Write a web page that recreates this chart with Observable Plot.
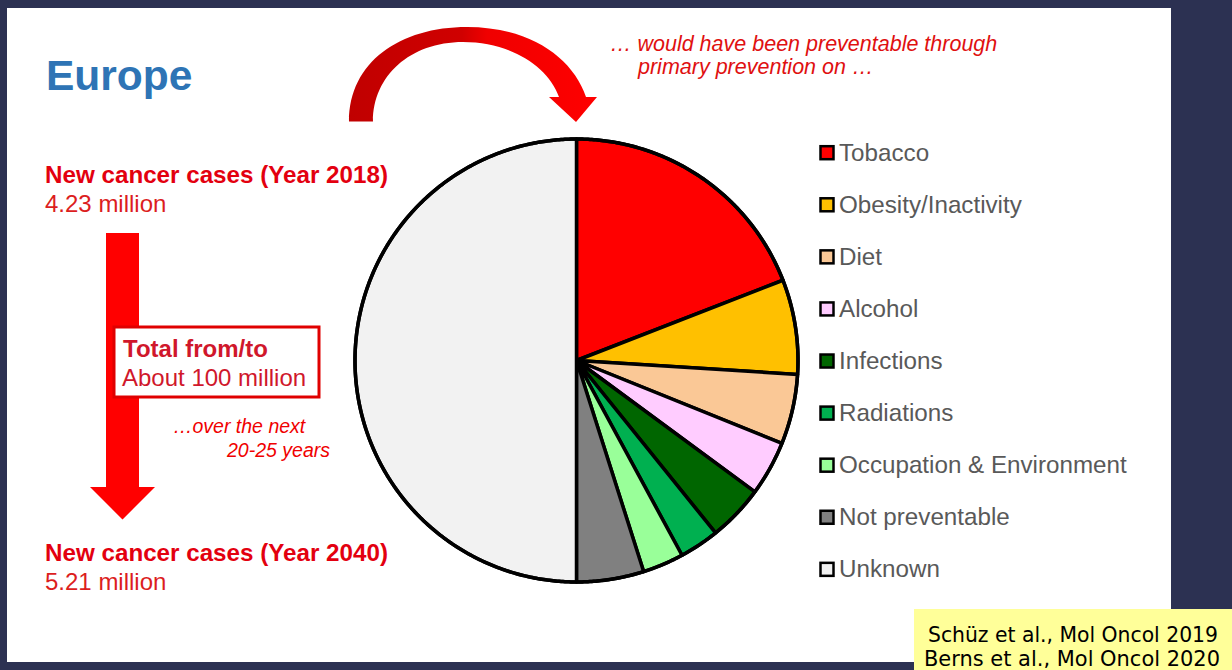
<!DOCTYPE html>
<html><head><meta charset="utf-8">
<script src="https://cdn.jsdelivr.net/npm/d3@7"></script>
<script src="https://cdn.jsdelivr.net/npm/@observablehq/plot@0.6"></script>
<style>
html,body{margin:0;padding:0;}
body{width:1232px;height:670px;background:#2c3152;position:relative;overflow:hidden;font-family:"Liberation Sans",Arial,sans-serif;}
#slide{position:absolute;left:7px;top:8px;width:1164px;height:654px;background:#fff;}
#pie{position:absolute;left:345.5px;top:130px;width:460px;height:460px;}
#overlay{position:absolute;left:0;top:0;pointer-events:none;}
</style></head><body>
<div id="slide"></div>
<div id="pie"></div>
<svg id="overlay" width="1232" height="670" xmlns="http://www.w3.org/2000/svg"></svg>
<script>
// ---- data ----
const categories = ["Tobacco", "Obesity/Inactivity", "Diet", "Alcohol", "Infections", "Radiations", "Occupation & Environment", "Not preventable", "Unknown"];
const shares = [19.1, 6.9, 5.1, 4.0, 4.1, 2.9, 3.0, 4.9, 50.0];   // % of new cancer cases
const colors = ["#ff0000", "#ffc000", "#fac896", "#ffccff", "#006600", "#00b050", "#99ff99", "#808080", "#f2f2f2"];

const title = "Europe";
const header2018 = "New cancer cases (Year 2018)";
const value2018 = "4.23 million";
const header2040 = "New cancer cases (Year 2040)";
const value2040 = "5.21 million";
const totalLines = ["Total from/to", "About 100 million"];
const periodLines = ["\u2026over the next", "20-25 years"];
const preventLines = ["\u2026 would have been preventable through", "primary prevention on \u2026"];
const citations = ["Sch\u00fcz et al., Mol Oncol 2019", "Berns et al., Mol Oncol 2020"];

// ---- pie slices as planar polygons (unit circle, clockwise from 12 o'clock) ----
const arcs = d3.pie().sort(null).value(d => d)(shares);
function ring(a0, a1, withCenter) {
  const pts = withCenter ? [[0, 0]] : [];
  const n = Math.max(2, Math.ceil((a1 - a0) / (Math.PI / 360)));
  for (let i = 0; i <= n; i++) {
    const a = a0 + (a1 - a0) * i / n;
    pts.push([Math.sin(a), Math.cos(a)]);
  }
  if (withCenter) pts.push([0, 0]); else pts.push(pts[0]);
  return pts;
}
const slices = arcs.map((a, i) => ({
  type: "Feature",
  properties: {category: categories[i], share: shares[i]},
  geometry: {type: "Polygon", coordinates: [ring(a.startAngle, a.endAngle, true)]}
}));
const outline = {type: "Polygon", coordinates: [ring(0, 2 * Math.PI, false)]};

const pie = Plot.plot({
  width: 460,
  height: 460,
  margin: 0,
  projection: {type: "reflect-y", domain: outline, inset: 8.5},
  color: {type: "ordinal", domain: categories, range: colors},
  marks: [
    Plot.geo(slices, {fill: d => d.properties.category, stroke: "#000", strokeWidth: 3.5, strokeLinejoin: "round"}),
    Plot.geo([outline], {fill: "none", stroke: "#000", strokeWidth: 3.5})
  ]
});
document.getElementById("pie").appendChild(pie);

// ---- overlay: text, arrows, legend, citation ----
const svg = d3.select("#overlay");
const defs = svg.append("defs");
const grad = defs.append("linearGradient").attr("id", "arrowGrad").attr("gradientUnits", "userSpaceOnUse")
  .attr("x1", 349).attr("y1", 0).attr("x2", 600).attr("y2", 0);
grad.append("stop").attr("offset", 0).attr("stop-color", "#c00000");
grad.append("stop").attr("offset", 0.45).attr("stop-color", "#d00000");
grad.append("stop").attr("offset", 0.55).attr("stop-color", "#f00000");
grad.append("stop").attr("offset", 1).attr("stop-color", "#ff0000");

// curved arrow
svg.append("path")
  .attr("d", "M349,121.5 C349,62 400,27 467,27 C530,27 573,58 586,97 L597,97 L576,122 L549,97 L559,97 C548,66 510,42 463,42 C410,42 373,76 373,121.5 Z")
  .attr("fill", "url(#arrowGrad)");

// down arrow
svg.append("path")
  .attr("d", "M106,233 H139 V487 H155 L122.5,519.5 L90,487 H106 Z")
  .attr("fill", "#ff0000");

function txt(s, x, y, size, opts = {}) {
  const t = svg.append("text").attr("x", x).attr("y", y)
    .attr("font-family", opts.family || "'Liberation Sans', Arial, sans-serif")
    .attr("font-size", size)
    .attr("font-weight", opts.weight || "normal")
    .attr("font-style", opts.style || "normal")
    .attr("fill", opts.fill || "#000")
    .text(s);
  if (opts.len) t.attr("textLength", opts.len).attr("lengthAdjust", "spacingAndGlyphs");
  return t;
}

txt(title, 46, 90, 42.5, {weight: "bold", fill: "#2e74b5"});
txt(header2018, 45, 183.3, 24, {weight: "bold", fill: "#e3000f", len: 343});
txt(value2018, 45, 211.7, 24, {fill: "#dc1e1e"});
txt(header2040, 45, 560.7, 24, {weight: "bold", fill: "#e3000f", len: 343});
txt(value2040, 45, 590, 24, {fill: "#dc1e1e"});

svg.append("rect").attr("x", 114).attr("y", 327).attr("width", 205).attr("height", 70)
  .attr("fill", "#fff").attr("stroke", "#e00000").attr("stroke-width", 3);
txt(totalLines[0], 123, 356.7, 24, {weight: "bold", fill: "#d0172b"});
txt(totalLines[1], 122, 385.7, 24, {fill: "#d0172b"});

txt(periodLines[0], 173, 433, 19.5, {style: "italic", fill: "#f00000"});
txt(periodLines[1], 227, 457, 19.5, {style: "italic", fill: "#f00000"});

txt(preventLines[0], 610, 51, 21.5, {style: "italic", fill: "#e01010"});
txt(preventLines[1], 638, 74.3, 21.5, {style: "italic", fill: "#e01010"});

// legend
const legend = svg.append("g");
categories.forEach((c, i) => {
  const base = 160.7 + i * 52.08;
  legend.append("rect").attr("x", 820.5).attr("y", base - 14.5).attr("width", 13).attr("height", 13)
    .attr("fill", colors[i]).attr("stroke", "#000").attr("stroke-width", 2.5);
  legend.append("text").attr("x", 839).attr("y", base)
    .attr("font-family", "'Liberation Sans', Arial, sans-serif").attr("font-size", 24.2)
    .attr("fill", "#595959").text(c);
});

// citation box
svg.append("rect").attr("x", 914).attr("y", 609).attr("width", 318).attr("height", 61).attr("fill", "#ffff99");
txt(citations[0], 928, 642, 21, {family: "'Comic Sans MS', 'DejaVu Sans', sans-serif", len: 290});
txt(citations[1], 924, 666, 21, {family: "'Comic Sans MS', 'DejaVu Sans', sans-serif", len: 296});
</script>
</body></html>
